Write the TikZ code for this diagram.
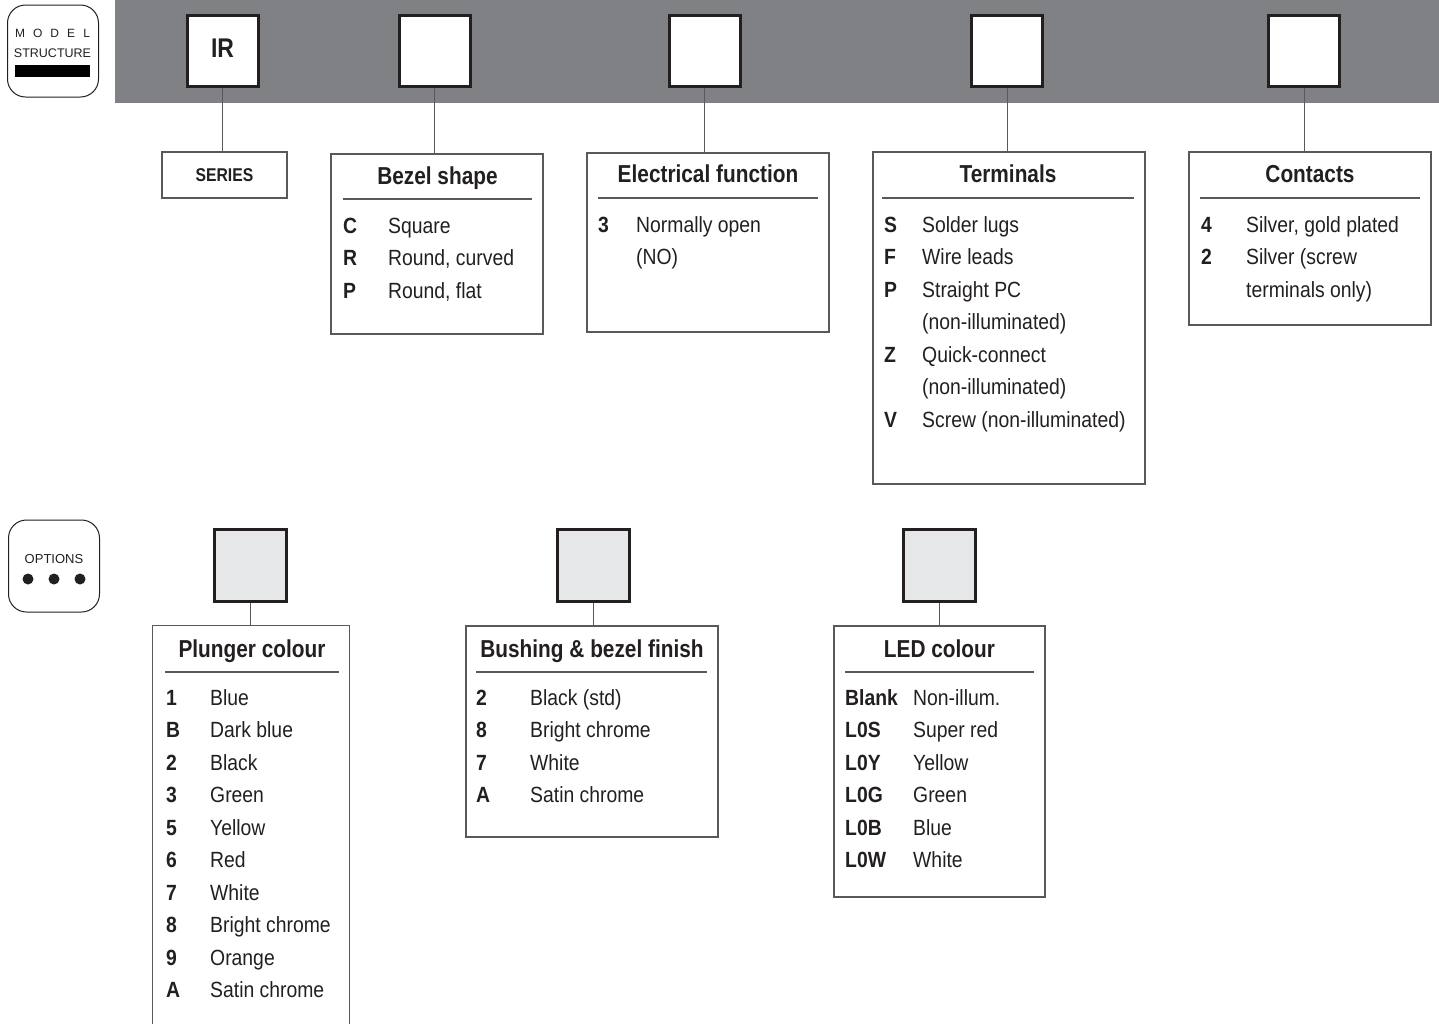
\documentclass[tikz,border=0pt]{standalone}
\usepackage{fontspec}
\setmainfont{Liberation Sans}
\newfontfamily\bodyfont{Liberation Sans}[FakeStretch=0.88]
\newfontfamily\headfont{Liberation Sans}[FakeStretch=0.85]
\definecolor{band}{HTML}{808184}
\definecolor{boxgray}{HTML}{58595B}
\definecolor{sqfill}{HTML}{E6E7E8}
\definecolor{ink}{HTML}{231F20}
\begin{document}
\begin{tikzpicture}[x=1pt,y=-1pt,
  box/.style={draw=boxgray,line width=1.3pt,inner sep=0pt},
  sqw/.style={draw=ink,fill=white,line width=3pt,inner sep=0pt,minimum width=71pt,minimum height=71pt},
  sqg/.style={draw=ink,fill=sqfill,line width=3pt,inner sep=0pt,minimum width=72pt,minimum height=72pt},
  conn/.style={draw=boxgray,line width=1pt},
  hrule/.style={draw=boxgray,line width=1.3pt},
  hd/.style={anchor=base,text=ink,font=\headfont\fontsize{24.5}{28}\selectfont\bfseries,inner sep=0pt},
  key/.style={anchor=base west,text=ink,font=\bodyfont\fontsize{22}{26}\selectfont\bfseries,inner sep=0pt},
  desc/.style={anchor=base west,text=ink,font=\bodyfont\fontsize{22}{26}\selectfont,inner sep=0pt},
  badge/.style={draw=ink,line width=1pt,rounded corners=18pt,inner sep=0pt,minimum width=91pt,minimum height=92pt}]
\useasboundingbox (0,0) rectangle (1439,1023);

% ---------- MODEL STRUCTURE badge ----------
\node[badge] (ms) at (53,51) {};
\node[anchor=base,inner sep=0pt,text=ink,font=\fontsize{12}{14}\selectfont] (msa) at (52.5,37) {\makebox[75pt][s]{M O D E L}};
\node[anchor=base,inner sep=0pt,text=ink,font=\fontsize{12.5}{14}\selectfont] (msb) at (52.5,57) {STRUCTURE};
\node[fill=black,inner sep=0pt,minimum width=75pt,minimum height=12pt] (msbar) at (52.5,71) {};

% ---------- grey band ----------
\node[fill=band,inner sep=0pt,minimum width=1330pt,minimum height=103pt,anchor=north west] (band) at (115,0) {};

% ---------- top squares ----------
\node[sqw] (ir) at (222.5,51) {};
\node[anchor=base,inner sep=0pt,text=ink,font=\headfont\fontsize{27}{30}\selectfont\bfseries] (irt) at (222.5,57) {IR};
\node[sqw] (s2) at (434.5,51) {};
\node[sqw] (s3) at (704.5,51) {};
\node[sqw] (s4) at (1007,51) {};
\node[sqw] (s5) at (1304,51) {};

% ---------- top boxes ----------
\node[box,minimum width=125pt,minimum height=46pt] (series) at (224.5,175) {};
\node[anchor=base,inner sep=0pt,text=ink,font=\headfont\fontsize{18.5}{21}\selectfont\bfseries] (sert) at (224.5,181.5) {SERIES};

\node[box,minimum width=212pt,minimum height=180pt] (bezel) at (437,244) {};
\node[box,minimum width=242pt,minimum height=179pt] (elec) at (708,242.5) {};
\node[box,minimum width=272pt,minimum height=332pt] (term) at (1009,318) {};
\node[box,minimum width=242pt,minimum height=173pt] (cont) at (1310,238.5) {};

\draw[conn] (ir.south) -- (ir.south |- series.north);
\draw[conn] (s2.south) -- (s2.south |- bezel.north);
\draw[conn] (s3.south) -- (s3.south |- elec.north);
\draw[conn] (s4.south) -- (s4.south |- term.north);
\draw[conn] (s5.south) -- (s5.south |- cont.north);

% Bezel shape
\node[hd] (bzh) at (437.5,184) {Bezel shape};
\coordinate (bzr1) at (343,199); \coordinate (bzr2) at (532,199);
\draw[hrule] (bzr1) -- (bzr2);
\node[key] (bzk1) at (343,233) {C};   \node[desc] (bzd1) at (388,233) {Square};
\node[key] (bzk2) at (343,265.5) {R}; \node[desc] (bzd2) at (388,265.5) {Round, curved};
\node[key] (bzk3) at (343,298) {P};   \node[desc] (bzd3) at (388,298) {Round, flat};

% Electrical function
\node[hd] (elh) at (708,182) {Electrical function};
\coordinate (elr1) at (598,198); \coordinate (elr2) at (818,198);
\draw[hrule] (elr1) -- (elr2);
\node[key] (elk1) at (598,232) {3}; \node[desc] (eld1) at (636,232) {Normally open};
\node[desc] (eld2) at (636,264.5) {(NO)};

% Terminals
\node[hd] (teh) at (1008,182) {Terminals};
\coordinate (ter1) at (882,198); \coordinate (ter2) at (1134,198);
\draw[hrule] (ter1) -- (ter2);
\node[key] (tek1) at (884,232) {S};   \node[desc] (ted1) at (922,232) {Solder lugs};
\node[key] (tek2) at (884,264.5) {F}; \node[desc] (ted2) at (922,264.5) {Wire leads};
\node[key] (tek3) at (884,297) {P};   \node[desc] (ted3) at (922,297) {Straight PC};
\node[desc] (ted4) at (922,329.5) {(non-illuminated)};
\node[key] (tek5) at (884,362) {Z};   \node[desc] (ted5) at (922,362) {Quick-connect};
\node[desc] (ted6) at (922,394.5) {(non-illuminated)};
\node[key] (tek7) at (884,427) {V};   \node[desc] (ted7) at (922,427) {Screw (non-illuminated)};

% Contacts
\node[hd] (coh) at (1310,182) {Contacts};
\coordinate (cor1) at (1200,198); \coordinate (cor2) at (1420,198);
\draw[hrule] (cor1) -- (cor2);
\node[key] (cok1) at (1201,232) {4};   \node[desc] (cod1) at (1246,232) {Silver, gold plated};
\node[key] (cok2) at (1201,264.5) {2}; \node[desc] (cod2) at (1246,264.5) {Silver (screw};
\node[desc] (cod3) at (1246,297) {terminals only)};

% ---------- OPTIONS badge ----------
\node[badge] (op) at (54,566) {};
\node[anchor=base,inner sep=0pt,text=ink,font=\fontsize{13}{15}\selectfont] (opt) at (54,563) {OPTIONS};
\fill[ink] (28,579) circle[radius=5.5pt] (54,579) circle[radius=5.5pt] (80,579) circle[radius=5.5pt];

% ---------- option squares ----------
\node[sqg] (o1) at (250.5,565.5) {};
\node[sqg] (o2) at (593.5,565.5) {};
\node[sqg] (o3) at (939,565.5) {};

% ---------- option boxes ----------
\node[inner sep=0pt,minimum width=196pt,minimum height=414pt] (plg) at (251,833) {};
\draw[draw=boxgray,line width=1.3pt] (plg.south west) -- (plg.north west) -- (plg.north east) -- (plg.south east);
\node[box,minimum width=252pt,minimum height=211pt] (bush) at (592,731.5) {};
\node[box,minimum width=211pt,minimum height=271pt] (led) at (939.5,761.5) {};

\draw[conn] (o1.south) -- (o1.south |- plg.north);
\draw[conn] (o2.south) -- (o2.south |- bush.north);
\draw[conn] (o3.south) -- (o3.south |- led.north);

% Plunger colour
\node[hd] (plh) at (252,657) {Plunger colour};
\coordinate (plr1) at (165,672); \coordinate (plr2) at (339,672);
\draw[hrule] (plr1) -- (plr2);
\node[key] (plk1) at (166,705) {1};    \node[desc] (pld1) at (210,705) {Blue};
\node[key] (plk2) at (166,737.5) {B};  \node[desc] (pld2) at (210,737.5) {Dark blue};
\node[key] (plk3) at (166,770) {2};    \node[desc] (pld3) at (210,770) {Black};
\node[key] (plk4) at (166,802.5) {3};  \node[desc] (pld4) at (210,802.5) {Green};
\node[key] (plk5) at (166,835) {5};    \node[desc] (pld5) at (210,835) {Yellow};
\node[key] (plk6) at (166,867.5) {6};  \node[desc] (pld6) at (210,867.5) {Red};
\node[key] (plk7) at (166,900) {7};    \node[desc] (pld7) at (210,900) {White};
\node[key] (plk8) at (166,932.5) {8};  \node[desc] (pld8) at (210,932.5) {Bright chrome};
\node[key] (plk9) at (166,965) {9};    \node[desc] (pld9) at (210,965) {Orange};
\node[key] (plk10) at (166,997.5) {A}; \node[desc] (pld10) at (210,997.5) {Satin chrome};

% Bushing & bezel finish
\node[hd] (buh) at (592,657) {Bushing \& bezel finish};
\coordinate (bur1) at (476,672); \coordinate (bur2) at (707,672);
\draw[hrule] (bur1) -- (bur2);
\node[key] (buk1) at (476,705) {2};    \node[desc] (bud1) at (530,705) {Black (std)};
\node[key] (buk2) at (476,737.5) {8};  \node[desc] (bud2) at (530,737.5) {Bright chrome};
\node[key] (buk3) at (476,770) {7};    \node[desc] (bud3) at (530,770) {White};
\node[key] (buk4) at (476,802.5) {A};  \node[desc] (bud4) at (530,802.5) {Satin chrome};

% LED colour
\node[hd] (leh) at (939.5,657) {LED colour};
\coordinate (ler1) at (845,672); \coordinate (ler2) at (1034,672);
\draw[hrule] (ler1) -- (ler2);
\node[key] (lek1) at (845,705) {Blank};  \node[desc] (led1) at (913,705) {Non-illum.};
\node[key] (lek2) at (845,737.5) {L0S};  \node[desc] (led2) at (913,737.5) {Super red};
\node[key] (lek3) at (845,770) {L0Y};    \node[desc] (led3) at (913,770) {Yellow};
\node[key] (lek4) at (845,802.5) {L0G};  \node[desc] (led4) at (913,802.5) {Green};
\node[key] (lek5) at (845,835) {L0B};    \node[desc] (led5) at (913,835) {Blue};
\node[key] (lek6) at (845,867.5) {L0W};  \node[desc] (led6) at (913,867.5) {White};
\end{tikzpicture}
\end{document}
